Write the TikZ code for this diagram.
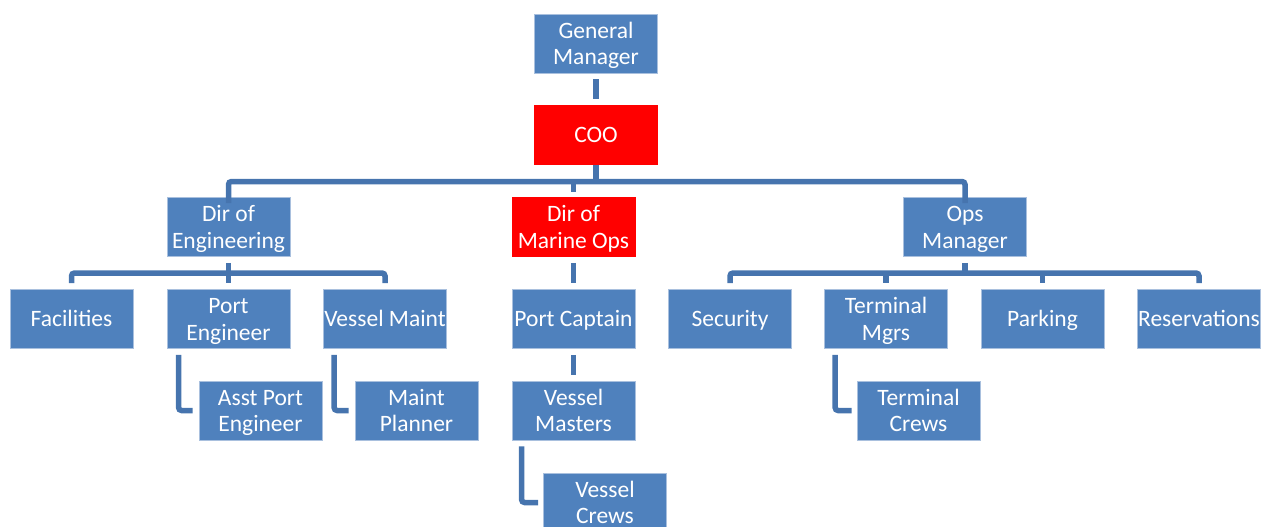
\documentclass[tikz,border=0pt]{standalone}
\usepackage{fontspec}
\setmainfont{Carlito}
\definecolor{boxblue}{HTML}{4F81BD}
\definecolor{boxred}{HTML}{FF0000}
\definecolor{connblue}{HTML}{4674AE}
\definecolor{edgeblue}{HTML}{A9C0DE}
\begin{document}
\begin{tikzpicture}[x=1pt,y=-1pt,
  box/.style={rectangle, fill=boxblue, draw=edgeblue, line width=0.8pt,
    minimum width=123pt, minimum height=59pt, inner sep=0pt,
    label={[txt]center:{\strut#1\strut}}},
  redbox/.style={box={#1}, fill=boxred, draw=boxred},
  txt/.style={inner sep=0pt, align=center, text=white, yshift=-2.5pt,
    font=\fontsize{23.5}{26.5}\selectfont},
  conn/.style={draw=connblue, line width=5.5pt, rounded corners=3pt}]
\useasboundingbox (0,0) rectangle (1263,527);
% nodes
\node[box={General\\Manager}] (gm) at (596,43.5) {};
\node[redbox={COO}] (coo) at (596,135) {};
\node[box={Dir of\\Engineering}] (eng) at (228.5,227) {};
\node[redbox={Dir of\\Marine Ops}] (mar) at (573.5,227) {};
\node[box={Ops\\Manager}] (ops) at (965,227) {};
\node[box={Facilities}] (fac) at (71.5,319) {};
\node[box={Port\\Engineer}] (pe) at (228.5,319) {};
\node[box={Vessel Maint}] (vm) at (385,319) {};
\node[box={Port Captain}] (pc) at (573.5,319) {};
\node[box={Security}] (sec) at (730,319) {};
\node[box={Terminal\\Mgrs}] (tm) at (886,319) {};
\node[box={Parking}] (park) at (1042.5,319) {};
\node[box={Reservations}] (res) at (1199,319) {};
\node[box={Asst Port\\Engineer}] (ape) at (260.5,410.5) {};
\node[box={Maint\\Planner}] (mp) at (416.5,410.5) {};
\node[box={Vessel\\Masters}] (vmast) at (573.5,410.5) {};
\node[box={Terminal\\Crews}] (tc) at (918.5,410.5) {};
\node[box={Vessel\\Crews}] (vc) at (605,502.5) {};
% bus coordinates
\coordinate (busTop) at (596,181.5);
\coordinate (busEng) at (228.5,273);
\coordinate (busOps) at (965,273);
% connectors
\draw[conn] ([yshift=-6pt]gm.south) -- ([yshift=6pt]coo.north);
\draw[conn] ([yshift=-6pt]eng.north) |- (busTop) -| ([yshift=-6pt]ops.north);
\draw[conn] (coo.south) -- (coo.south |- busTop);
\draw[conn] (busTop -| mar.north) -- ([yshift=5pt]mar.north);
% engineering
\draw[conn] ([yshift=6pt]fac.north) |- (busEng) -| ([yshift=6pt]vm.north);
\draw[conn] ([yshift=-6pt]eng.south) -- ([yshift=6pt]pe.north);
\draw[conn] ([shift={(12pt,-6pt)}]pe.south west) |- ([xshift=-6pt]ape.west);
\draw[conn] ([shift={(11pt,-6pt)}]vm.south west) |- ([xshift=-6pt]mp.west);
% marine
\draw[conn] ([yshift=-6pt]mar.south) -- ([yshift=6pt]pc.north);
\draw[conn] ([yshift=-6pt]pc.south) -- ([yshift=6pt]vmast.north);
\draw[conn] ([shift={(10pt,-6pt)}]vmast.south west) |- ([xshift=-5pt]vc.west);
% ops
\draw[conn] ([yshift=6pt]sec.north) |- (busOps) -| ([yshift=6pt]res.north);
\draw[conn] ([yshift=-6pt]ops.south) -- (busOps);
\draw[conn] (busOps -| tm.north) -- ([yshift=6pt]tm.north);
\draw[conn] (busOps -| park.north) -- ([yshift=6pt]park.north);
\draw[conn] ([shift={(11pt,-6pt)}]tm.south west) |- ([xshift=-5pt]tc.west);
\end{tikzpicture}
\end{document}
